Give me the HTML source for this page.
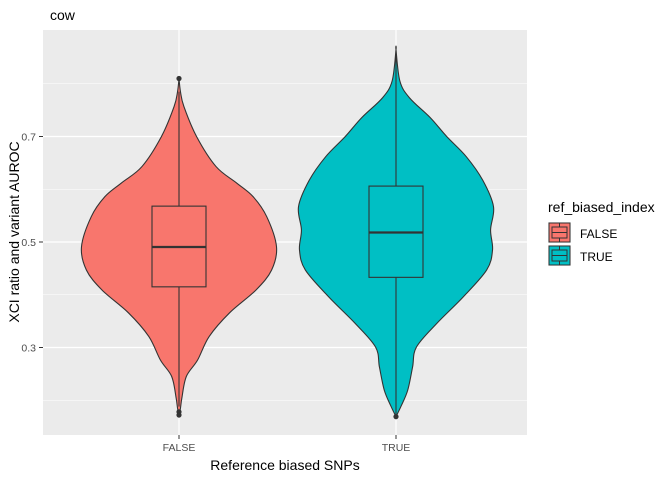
<!DOCTYPE html>
<html><head><meta charset="utf-8"><style>
body{margin:0;background:#fff;width:672px;height:480px;overflow:hidden;font-family:"Liberation Sans",sans-serif}
</style></head><body>
<svg id="chart" width="672" height="480" xmlns="http://www.w3.org/2000/svg" font-family="Liberation Sans, sans-serif">
<text x="50" y="20" font-size="14" fill="#000">cow</text>
<rect x="43" y="30" width="484" height="405" fill="#ebebeb"/>
<g id="grid"></g>
<g id="marks"></g>
<g id="axes"></g>
<text x="285" y="470" font-size="14" text-anchor="middle">Reference biased SNPs</text>
<text transform="translate(19,232) rotate(-90)" font-size="14" text-anchor="middle">XCI ratio and variant AUROC</text>
<g>
<text x="548" y="212" font-size="14">ref_biased_index</text>
<g>
<rect x="548" y="222" width="23" height="21" fill="#f2f2f2"/>
<rect x="549" y="223" width="21" height="19" fill="#F8766D" stroke="#333" stroke-width="1"/>
<rect x="552" y="227" width="15" height="11" fill="#F8766D" stroke="#333" stroke-width="1"/>
<line x1="552" y1="232.5" x2="567" y2="232.5" stroke="#333"/>
<line x1="559.5" y1="223" x2="559.5" y2="227" stroke="#333"/><line x1="559.5" y1="238" x2="559.5" y2="242" stroke="#333"/>
<text x="580" y="238" font-size="12">FALSE</text></g>
<g>
<rect x="548" y="245" width="23" height="21" fill="#f2f2f2"/>
<rect x="549" y="246" width="21" height="19" fill="#00BFC4" stroke="#333" stroke-width="1"/>
<rect x="552" y="250" width="15" height="11" fill="#00BFC4" stroke="#333" stroke-width="1"/>
<line x1="552" y1="255.5" x2="567" y2="255.5" stroke="#333"/>
<line x1="559.5" y1="246" x2="559.5" y2="250" stroke="#333"/><line x1="559.5" y1="261" x2="559.5" y2="265" stroke="#333"/>
<text x="580" y="261" font-size="12">TRUE</text></g>
</g>
</svg>
<script>
const categories=["FALSE","TRUE"];
const colors=["#F8766D","#00BFC4"];
const yTicks=[0.3,0.5,0.7];
const yMinor=[0.2,0.4,0.6,0.8];
const violinFalseY=[0.81,0.785,0.757,0.700,0.643,0.612,0.586,0.548,0.491,0.447,0.409,0.366,0.321,0.276,0.245,0.205,0.185,0.17];
const violinFalseW=[0,0.015,0.05,0.18,0.38,0.59,0.76,0.90,1.0,0.95,0.79,0.52,0.31,0.19,0.075,0.03,0.015,0];
const violinTrueY=[0.864,0.805,0.773,0.736,0.700,0.662,0.617,0.567,0.523,0.485,0.447,0.396,0.346,0.301,0.263,0.219,0.188,0.169];
const violinTrueW=[0,0.04,0.14,0.35,0.52,0.72,0.89,1.0,0.97,0.99,0.93,0.69,0.42,0.21,0.17,0.12,0.05,0];
const boxQ1=[0.415,0.433];
const boxMedian=[0.4905,0.518];
const boxQ3=[0.568,0.606];
const whiskerLow=[0.188,0.169];
const whiskerHigh=[0.785,0.864];
const outliers=[[0.81,0.178,0.172],[0.169]];

const NS="http://www.w3.org/2000/svg";
const y=v=>242-(v-0.5)*527.5;
const x=i=>179+i*217;
const maxHW=97.5, boxHW=27;
function mk(t,a,p){const e=document.createElementNS(NS,t);for(const k in a)e.setAttribute(k,a[k]);document.getElementById(p).appendChild(e);return e;}
yMinor.forEach(v=>{const l=mk('line',{x1:43,x2:527,y1:y(v),y2:y(v),stroke:'#fff','stroke-width':0.6},'grid');

});
yTicks.forEach(v=>{const l=mk('line',{x1:43,x2:527,y1:y(v),y2:y(v),stroke:'#fff','stroke-width':1.2},'grid');


const t=mk('line',{x1:39,x2:43,y1:y(v),y2:y(v),stroke:'#333'},'axes');


const tx=mk('text',{x:36,y:y(v)+4,'font-size':10.5,'text-anchor':'end',fill:'#4d4d4d'},'axes');tx.textContent=v.toFixed(1);

});
categories.forEach((c,i)=>{const l=mk('line',{x1:x(i),x2:x(i),y1:30,y2:435,stroke:'#fff','stroke-width':1.2},'grid');


const t=mk('line',{x1:x(i),x2:x(i),y1:435,y2:439,stroke:'#333'},'axes');


const tx=mk('text',{x:x(i),y:451,'font-size':10.5,'text-anchor':'middle',fill:'#4d4d4d'},'axes');tx.textContent=c;

});
function violinPath(i,ys,ws){
  const pts=ys.map((v,k)=>[x(i)+ws[k]*maxHW,y(v)]);
  const left=ys.map((v,k)=>[x(i)-ws[k]*maxHW,y(v)]).reverse();
  const all=pts.concat(left);
  let d='M'+all[0][0]+','+all[0][1];
  for(let k=0;k<all.length;k++){
    const p0=all[(k-1+all.length)%all.length],p1=all[k],p2=all[(k+1)%all.length],p3=all[(k+2)%all.length];
    const c1=[p1[0]+(p2[0]-p0[0])/6,p1[1]+(p2[1]-p0[1])/6],c2=[p2[0]-(p3[0]-p1[0])/6,p2[1]-(p3[1]-p1[1])/6];
    d+=` C${c1[0]},${c1[1]} ${c2[0]},${c2[1]} ${p2[0]},${p2[1]}`;
  }
  return d+'Z';
}
[[violinFalseY,violinFalseW],[violinTrueY,violinTrueW]].forEach(([ys,ws],i)=>{
  const v=mk('path',{d:violinPath(i,ys,ws),fill:colors[i],stroke:'#333','stroke-width':1.1},'marks');
  
  
  const w1=mk('line',{x1:x(i),x2:x(i),y1:y(whiskerHigh[i]),y2:y(boxQ3[i]),stroke:'#333','stroke-width':1.1},'marks');
  
  
  const w2=mk('line',{x1:x(i),x2:x(i),y1:y(boxQ1[i]),y2:y(whiskerLow[i]),stroke:'#333','stroke-width':1.1},'marks');
  
  
  const b=mk('rect',{x:x(i)-boxHW,y:y(boxQ3[i]),width:boxHW*2,height:y(boxQ1[i])-y(boxQ3[i]),fill:colors[i],stroke:'#333','stroke-width':1.1},'marks');
  
  
  const m=mk('line',{x1:x(i)-boxHW,x2:x(i)+boxHW,y1:y(boxMedian[i]),y2:y(boxMedian[i]),stroke:'#333','stroke-width':2.2},'marks');
  
  
  outliers[i].forEach(o=>{const c=mk('circle',{cx:x(i),cy:y(o),r:2.6,fill:'#333'},'marks');
  
  });
});
</script>
</body></html>
